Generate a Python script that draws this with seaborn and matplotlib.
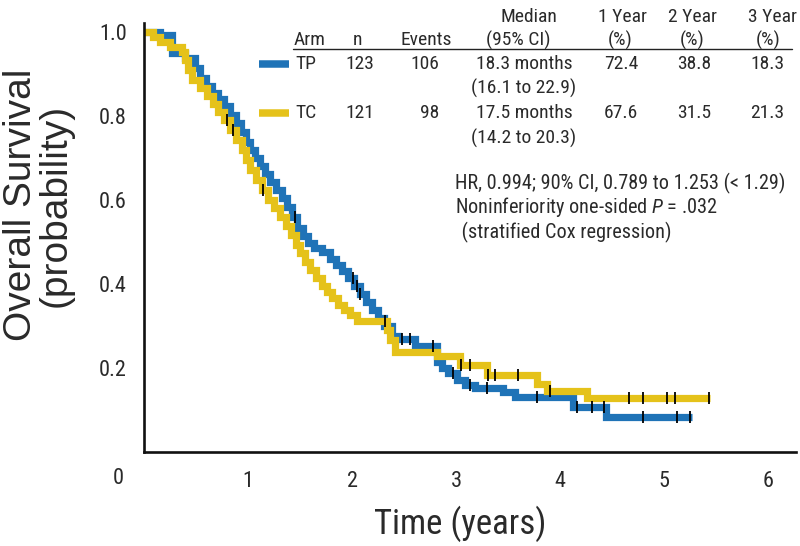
import numpy as np
import pandas as pd
import matplotlib
matplotlib.use("Agg")
import matplotlib.pyplot as plt
import seaborn as sns
from matplotlib.lines import Line2D
from matplotlib import font_manager

# ---------------- data ----------------
tp_time = [0.0, 0.154, 0.269, 0.394, 0.490, 0.538, 0.596, 0.654, 0.712, 0.769, 0.827,
           0.885, 0.933, 0.981, 1.019, 1.067, 1.115, 1.163, 1.212, 1.269, 1.327, 1.375,
           1.423, 1.471, 1.529, 1.577, 1.635, 1.712, 1.788, 1.846, 1.904, 1.962, 2.019,
           2.077, 2.135, 2.192, 2.250, 2.308, 2.385, 2.442, 2.606, 2.817, 2.865, 2.923,
           3.010, 3.087, 3.183, 3.452, 3.567, 4.125, 4.442, 5.269]
tp_surv = [1.0, 0.993, 0.950, 0.938, 0.914, 0.890, 0.871, 0.855, 0.840, 0.824, 0.802,
           0.783, 0.762, 0.738, 0.719, 0.700, 0.681, 0.662, 0.643, 0.624, 0.605, 0.583,
           0.560, 0.533, 0.514, 0.498, 0.486, 0.476, 0.460, 0.445, 0.431, 0.414, 0.395,
           0.376, 0.357, 0.338, 0.319, 0.300, 0.276, 0.269, 0.252, 0.214, 0.200, 0.188,
           0.171, 0.160, 0.152, 0.143, 0.131, 0.107, 0.083, 0.083]
tc_time = [0.0, 0.087, 0.154, 0.250, 0.365, 0.394, 0.423, 0.462, 0.538, 0.606, 0.663,
           0.712, 0.769, 0.827, 0.885, 0.942, 0.981, 1.019, 1.077, 1.135, 1.192, 1.250,
           1.308, 1.365, 1.413, 1.462, 1.500, 1.548, 1.596, 1.654, 1.712, 1.760, 1.808,
           1.865, 1.923, 1.981, 2.048, 2.337, 2.365, 2.413, 2.817, 3.038, 3.298, 3.779,
           3.875, 4.260, 5.442]
tc_surv = [1.0, 0.988, 0.976, 0.964, 0.952, 0.933, 0.910, 0.886, 0.867, 0.848, 0.829,
           0.810, 0.790, 0.767, 0.743, 0.719, 0.695, 0.671, 0.648, 0.624, 0.600, 0.581,
           0.560, 0.538, 0.517, 0.493, 0.474, 0.452, 0.433, 0.414, 0.395, 0.381, 0.367,
           0.350, 0.338, 0.326, 0.312, 0.290, 0.267, 0.238, 0.229, 0.207, 0.183, 0.162,
           0.145, 0.129, 0.129]
tp_censor = [1.452, 2.010, 2.048, 2.077, 2.481, 2.558, 2.779, 2.971, 3.135, 3.298,
             3.779, 4.163, 4.308, 4.420, 4.798, 5.125, 5.250]
tc_censor = [0.798, 0.856, 1.144, 2.317, 3.048, 3.135, 3.310, 3.375, 3.596, 3.904,
             4.663, 4.798, 5.029, 5.106, 5.433]

arms = ["TP", "TC"]
arm_colors = {"TP": "#1f73b7", "TC": "#e5c21a"}
table_n = ["123", "121"]
table_events = ["106", "98"]
table_median = ["18.3 months", "17.5 months"]
table_ci = ["(16.1 to 22.9)", "(14.2 to 20.3)"]
table_y1 = ["72.4", "67.6"]
table_y2 = ["38.8", "31.5"]
table_y3 = ["18.3", "21.3"]
x_ticks = [1, 2, 3, 4, 5, 6]
y_ticks = [0.2, 0.4, 0.6, 0.8, 1.0]
y_tick_labels = ["0.2", "0.4", "0.6", "0.8", "1.0"]

# ---------------- style ----------------
sns.set_theme(style="white")
installed = {f.name for f in font_manager.fontManager.ttflist}
candidates = ['Roboto Condensed', 'Liberation Sans Narrow', 'DejaVu Sans Condensed',
              'Open Sans Condensed', 'Roboto', 'Liberation Sans']
NARROW = [c for c in candidates if c in installed][:1] + ['DejaVu Sans']
plt.rcParams['font.family'] = NARROW
plt.rcParams['mathtext.fontset'] = 'custom'
plt.rcParams['mathtext.rm'] = NARROW[0]
plt.rcParams['mathtext.it'] = NARROW[0] + ':italic'
TXT = "#2a2a2a"

W, H = 800, 546
fig = plt.figure(figsize=(W / 100, H / 100), dpi=100)
ax = fig.add_axes([144 / W, (H - 452) / H, 6.27 * 104 / W, 1.022 * 420 / H])

# ---------------- curves ----------------
df = pd.concat([
    pd.DataFrame({"time": tp_time, "surv": tp_surv, "arm": "TP"}),
    pd.DataFrame({"time": tc_time, "surv": tc_surv, "arm": "TC"}),
], ignore_index=True)
sns.lineplot(data=df, x="time", y="surv", hue="arm", palette=arm_colors,
             drawstyle="steps-post", linewidth=5.2, estimator=None, sort=False,
             legend=False, ax=ax, solid_joinstyle="miter", solid_capstyle="butt")


def censor_frame(times, surv, cens, arm):
    t = np.asarray(times)
    s = np.asarray(surv)
    idx = np.searchsorted(t, cens, side="right") - 1
    return pd.DataFrame({"time": cens, "surv": s[idx], "arm": arm})


cdf = pd.concat([censor_frame(tp_time, tp_surv, tp_censor, "TP"),
                 censor_frame(tc_time, tc_surv, tc_censor, "TC")], ignore_index=True)
sns.scatterplot(data=cdf, x="time", y="surv", marker="|", s=75, color="black",
                linewidth=1.3, ax=ax, legend=False, zorder=5)

# ---------------- axes ----------------
ax.set_xlim(0, 6.27)
ax.set_ylim(0, 1.022)
ax.set_xticks(x_ticks)
ax.set_xticklabels([str(v) for v in x_ticks])
ax.set_yticks(y_ticks)
ax.set_yticklabels(y_tick_labels)
ax.set_xlabel("")
ax.set_ylabel("")
for side in ["top", "right"]:
    ax.spines[side].set_visible(False)
for side in ["left", "bottom"]:
    ax.spines[side].set_color("#111111")
    ax.spines[side].set_linewidth(1.9)
ax.tick_params(axis="both", which="both", direction="out", length=4.5, width=1.2,
               color="#222222", labelsize=16, labelcolor=TXT)
ax.tick_params(axis="x", pad=9)
ax.tick_params(axis="y", pad=8)
ax.annotate("0", xy=(0, 0), xycoords="data", xytext=(-26, -26),
            textcoords="offset pixels", ha="center", va="center",
            fontsize=16, color=TXT)

fig.text(460 / W, 1 - 524 / H, "Time (years)", ha="center", va="center",
         fontsize=25, color=TXT)
fig.text(38 / W, 1 - 205 / H, "Overall Survival\n(probability)", ha="center",
         va="center", rotation=90, fontsize=28, color=TXT, linespacing=0.95,
         family=['Liberation Sans', 'DejaVu Sans'])

# ---------------- table ----------------
FS = 14


def T(x, y, s, ha="center", fs=FS, **kw):
    fig.text(x / W, 1 - y / H, s, ha=ha, va="center", fontsize=fs, color=TXT, **kw)


T(529, 17, "Median")
T(622, 17, "1 Year")
T(693, 17, "2 Year")
T(772, 17, "3 Year")
T(294, 40, "Arm", ha="left")
T(358, 40, "n")
T(426, 40, "Events")
T(518, 40, "(95% CI)")
T(620, 40, "(%)")
T(692, 40, "(%)")
T(768, 40, "(%)")
fig.add_artist(Line2D([293 / W, 792 / W], [1 - 49 / H, 1 - 49 / H],
                      transform=fig.transFigure, color="#222222", lw=1.0))

row_y = [64, 113]
ci_y = [88, 138]
for i, arm in enumerate(arms):
    y = row_y[i]
    fig.add_artist(Line2D([259 / W, 289 / W], [1 - y / H, 1 - y / H],
                          transform=fig.transFigure, color=arm_colors[arm],
                          lw=5.4, solid_capstyle="butt"))
    T(295, y, arm, ha="left")
    T(360, y, table_n[i])
    T(439, y, table_events[i], ha="right")
    T(524, y, table_median[i])
    T(524, ci_y[i], table_ci[i])
    T(621, y, table_y1[i])
    T(694, y, table_y2[i])
    T(767, y, table_y3[i])

T(455, 183, "HR, 0.994; 90% CI, 0.789 to 1.253 (< 1.29)", ha="left", fs=14.6)
T(455, 207, "Noninferiority one-sided $P$ = .032", ha="left", fs=14.6)
T(457, 232, " (stratified Cox regression)", ha="left", fs=14.6)

fig.savefig("out.png", dpi=100, facecolor="white")
